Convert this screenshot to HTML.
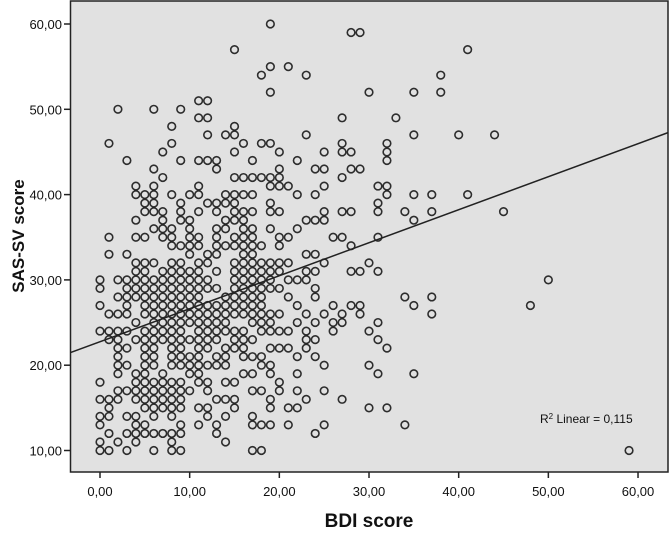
<!DOCTYPE html>
<html><head><meta charset="utf-8"><style>
html,body{margin:0;padding:0;background:#fff;}
svg{display:block;font-family:"Liberation Sans",sans-serif;}
</style></head><body>
<svg id="chart" width="669" height="533" viewBox="0 0 669 533">
<rect x="70.5" y="1" width="597.5" height="471" fill="#e1e1e1" stroke="#222" stroke-width="1.5"/>
<g id="yaxis"></g>
<g id="xaxis"></g>
<g id="points"></g>
<g id="fit"></g>
<text x="540" y="423" font-size="12" fill="#111">R<tspan dy="-4" font-size="8">2</tspan><tspan dy="4"> Linear = 0,115</tspan></text>
<text x="369" y="527" text-anchor="middle" font-size="19" font-weight="bold" fill="#111">BDI score</text>
<text transform="translate(24,236) rotate(-90)" text-anchor="middle" font-size="17" font-weight="bold" fill="#111">SAS-SV score</text>
</svg>
<script>
const xTicks = [0, 10, 20, 30, 40, 50, 60];
const xTickLabels = ["0,00","10,00","20,00","30,00","40,00","50,00","60,00"];
const yTicks = [10, 20, 30, 40, 50, 60];
const yTickLabels = ["10,00","20,00","30,00","40,00","50,00","60,00"];
const fitIntercept = 22.75;
const fitSlope = 0.387;
// SAS-SV score value for each row, and BDI scores of points on that row
const sasValues = [60,59,57,55,54,52,51,50,49,48,47,46,45,44,43,42,41,40,39,38,37,36,35,34,33,32,31,30,29,28,27,26,25,24,23,22,21,20,19,18,17,16,15,14,13,12,11,10];
const bdiByRow = [
[19],[28,29],[15,41],[19,21],[18,23,38],[19,30,35,38],[11,12],[2,6,9],[11,12,27,33],[8,15],
[12,14,15,23,35,40,44],[1,8,16,18,19,27,32],[7,15,20,25,27,28,32],[3,9,11,12,13,17,22,32],
[6,13,20,24,25,28,29],[7,15,16,17,18,19,20,27],[4,6,11,19,20,21,25,31,32],
[4,5,6,8,10,11,14,15,16,17,22,24,32,35,37,41],[5,6,9,12,13,14,15,19,31],
[5,6,7,9,11,13,15,16,17,19,20,25,27,28,31,34,37,45],[4,7,9,10,14,15,16,23,24,25,35],
[6,7,8,10,13,14,16,17,19,22],[1,4,5,7,8,10,11,13,15,16,17,20,21,26,27,31],
[8,9,10,11,13,14,15,16,17,18,20,28],[1,3,10,12,13,16,17,23,24],
[4,5,6,8,9,11,12,15,16,17,18,19,20,21,25,30],
[4,5,7,8,9,10,11,13,15,16,17,18,19,20,23,24,28,29,31],
[0,2,3,4,5,6,7,8,9,10,11,12,15,16,17,18,19,21,22,23,50],
[0,3,4,5,6,7,8,9,10,11,12,13,15,16,17,18,19,20,24],
[2,3,4,5,6,7,8,9,10,11,14,15,16,17,18,21,24,34,37],
[0,3,5,6,7,8,9,10,11,12,13,14,15,16,17,18,22,26,28,29,35,48],
[1,2,3,5,6,7,8,9,10,11,12,13,14,15,16,17,18,19,20,23,25,27,29,37],
[4,6,7,8,9,10,11,12,13,14,17,18,19,22,24,26,27,31],
[0,1,2,3,5,6,7,8,9,11,12,13,14,15,16,18,19,20,21,23,26,30],
[1,2,4,5,6,7,8,9,10,11,12,13,15,16,17,23,24,31],
[2,3,5,6,8,9,11,12,14,15,16,19,20,21,23,32],
[2,5,6,8,9,10,11,13,14,16,17,18,22,24],
[2,3,5,6,8,9,10,11,12,13,14,18,19,25,30],
[2,4,5,7,10,11,16,17,19,22,31,35],
[0,4,5,6,7,8,9,11,12,14,15,20],
[2,3,4,5,6,7,8,9,10,12,17,18,20,22,25],
[0,1,2,4,5,6,7,8,9,13,14,15,19,23,27],
[1,5,6,7,8,9,11,12,15,19,21,22,30,32],
[0,1,3,4,6,8,12,14,17],
[0,4,5,9,11,13,17,18,19,21,25,34],
[1,3,4,5,6,7,8,9,13,24],
[0,2,4,8,14],
[0,1,3,6,8,9,17,18,59]
];
const NS = "http://www.w3.org/2000/svg";
const X0 = 100, XU = 8.967, Y10 = 450.5, YU = 8.53;
const PL = 70.5, PR = 668, PT = 1, PB = 472;
function xs(v){ return X0 + v * XU; }
function ys(v){ return Y10 - (v - 10) * YU; }
function mk(tag, attrs){ const e = document.createElementNS(NS, tag); for (const k in attrs) e.setAttribute(k, attrs[k]); return e; }
const ya = document.getElementById('yaxis');
yTicks.forEach((t, i) => {
  const y = ys(t);
  const tk = mk('line', {x1: 64, x2: PL, y1: y, y2: y, stroke: '#222', 'stroke-width': 1.5});
  
  
  ya.appendChild(tk);
  const lb = mk('text', {x: 62, y: y + 5, 'text-anchor': 'end', 'font-size': 13, fill: '#111'});
  lb.textContent = yTickLabels[i];
  
  
  ya.appendChild(lb);
});
const xa = document.getElementById('xaxis');
xTicks.forEach((t, i) => {
  const x = xs(t);
  const tk = mk('line', {x1: x, x2: x, y1: PB, y2: PB + 6, stroke: '#222', 'stroke-width': 1.5});
  
  
  xa.appendChild(tk);
  const lb = mk('text', {x: x, y: PB + 24, 'text-anchor': 'middle', 'font-size': 13, fill: '#111'});
  lb.textContent = xTickLabels[i];
  
  
  xa.appendChild(lb);
});
const pg = document.getElementById('points');
sasValues.forEach((s, r) => {
  bdiByRow[r].forEach(b => {
    const c = mk('circle', {cx: xs(b), cy: ys(s), r: 3.8, fill: 'none', stroke: '#1a1a1a', 'stroke-width': 1.6, 'stroke-opacity': 0.9});
    
    
    pg.appendChild(c);
  });
});
const bL = (PL - X0) / XU, bR = (PR - X0) / XU;
const ln = mk('line', {x1: PL, y1: ys(fitIntercept + fitSlope * bL), x2: PR, y2: ys(fitIntercept + fitSlope * bR), stroke: '#222', 'stroke-width': 1.5});


document.getElementById('fit').appendChild(ln);
</script>
</body></html>
